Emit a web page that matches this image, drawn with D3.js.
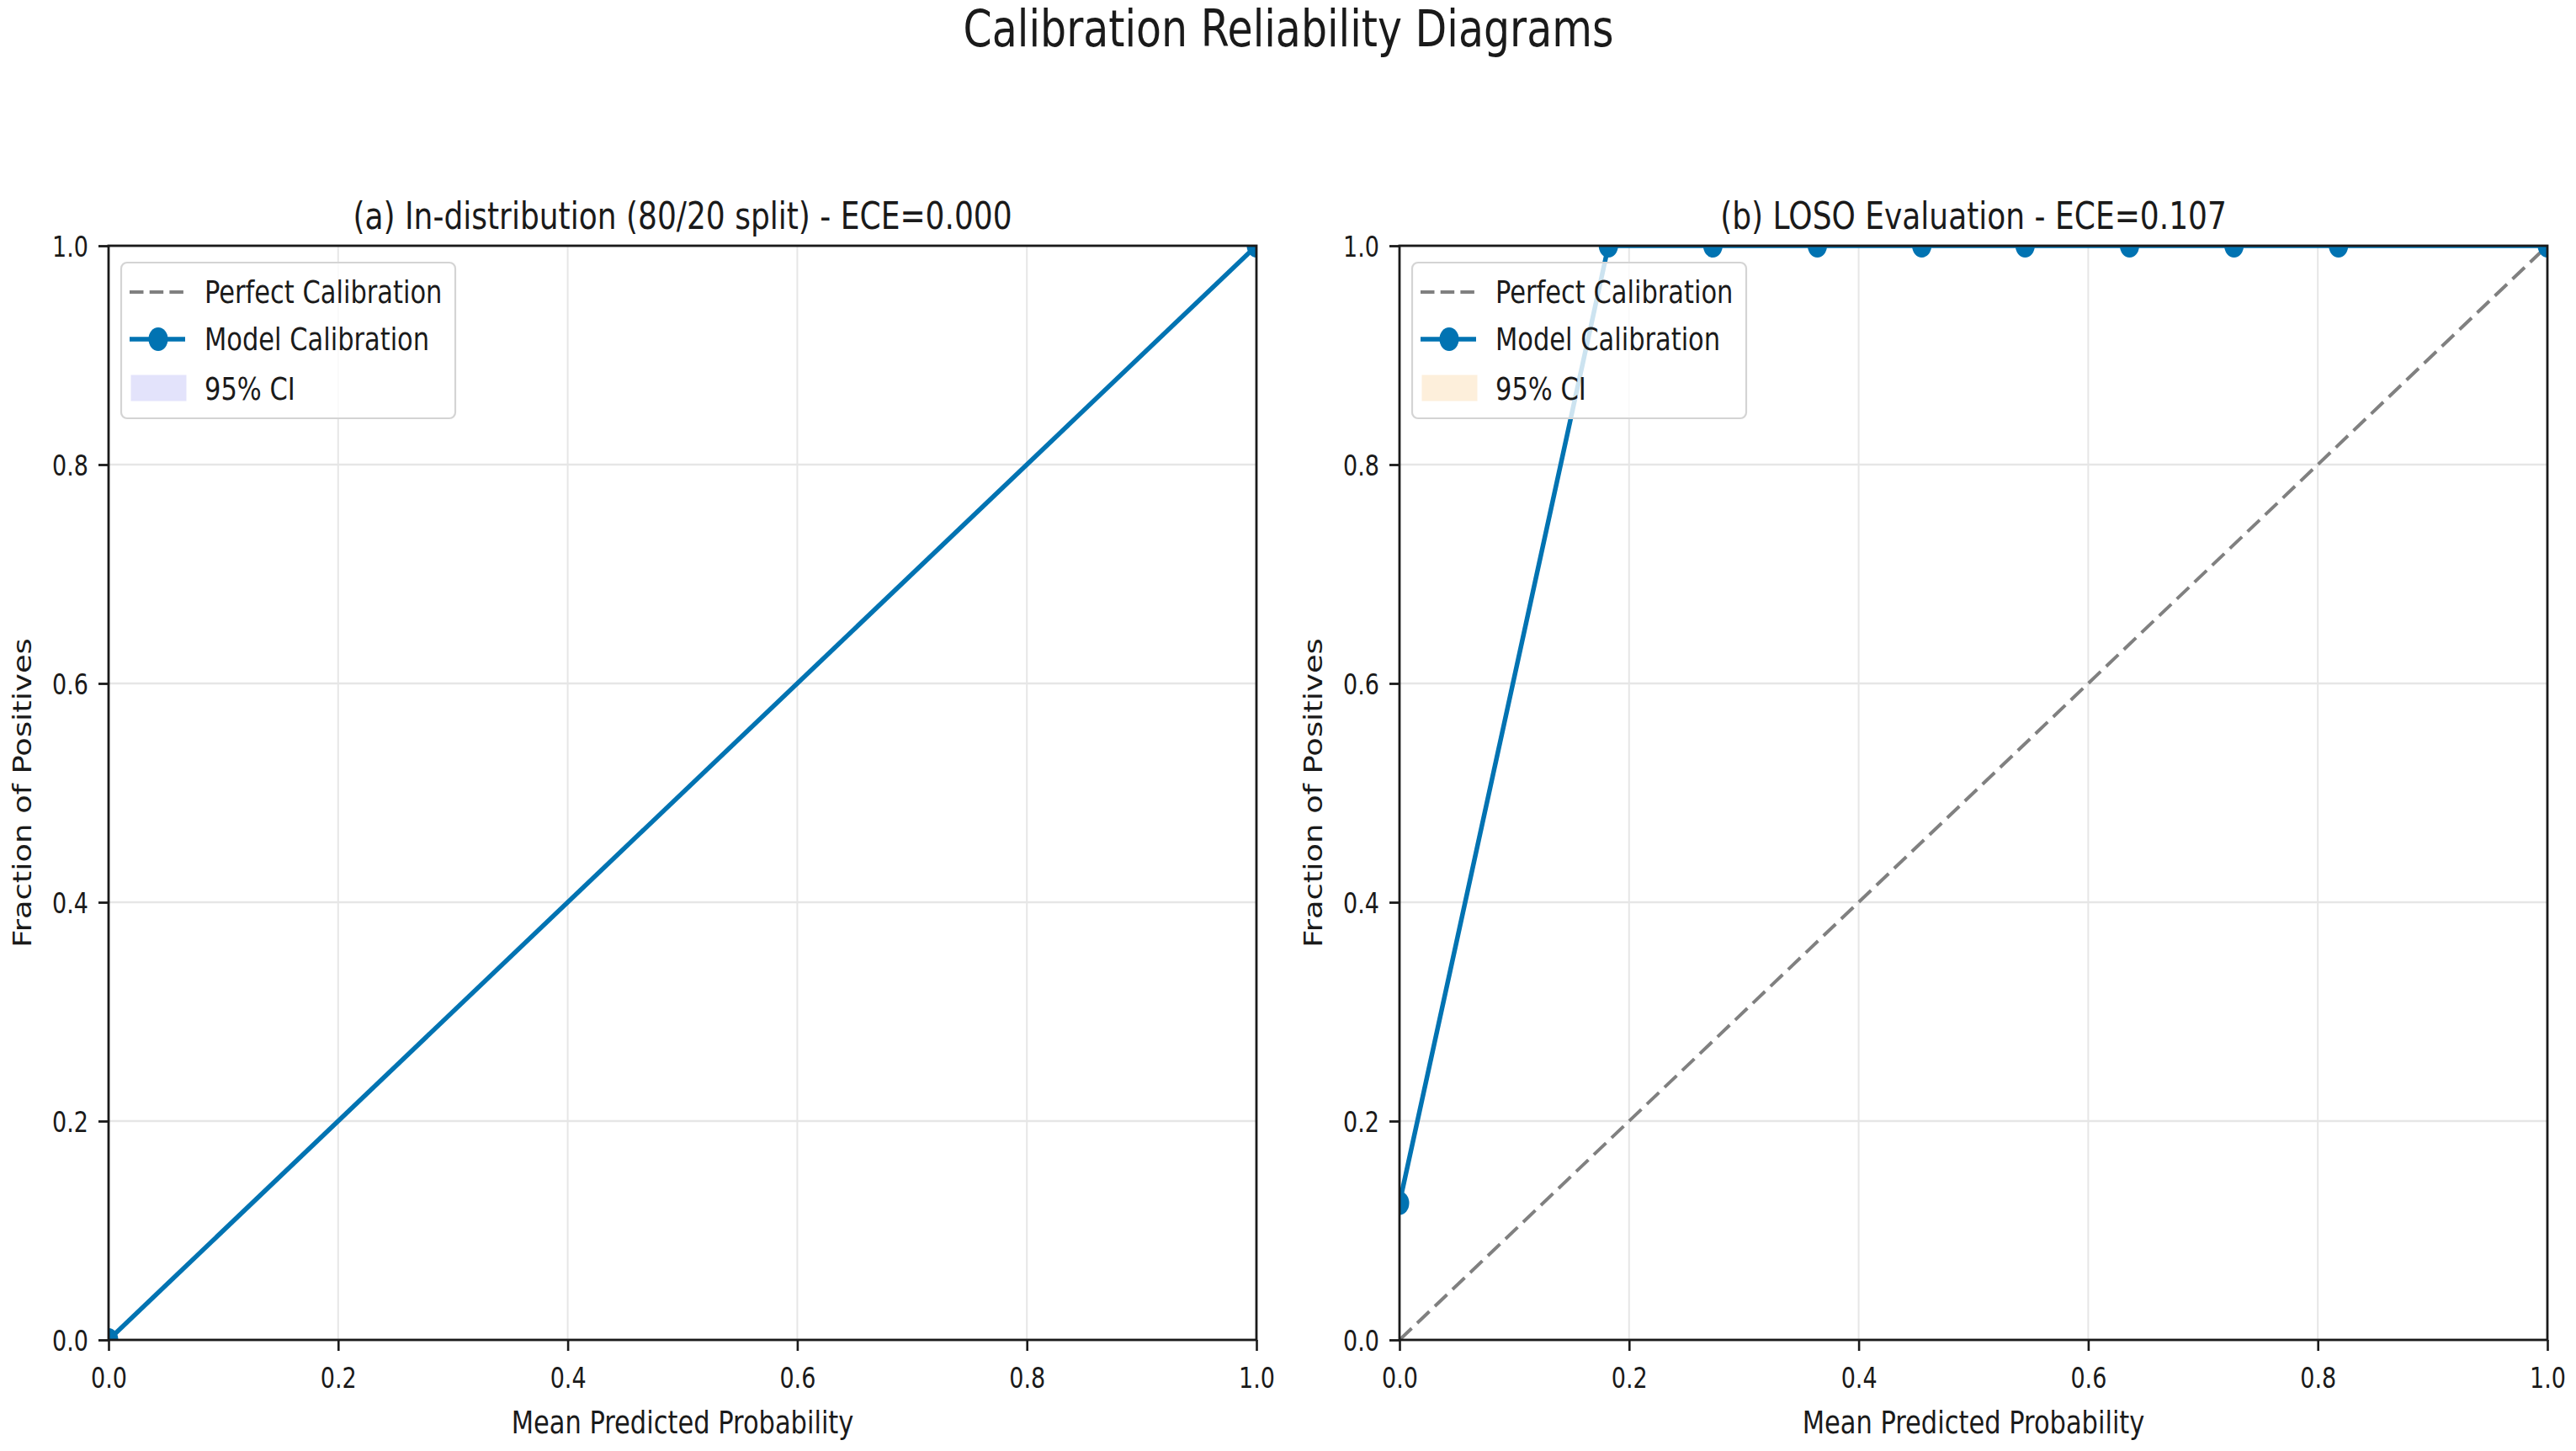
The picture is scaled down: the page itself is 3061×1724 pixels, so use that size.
<!DOCTYPE html>
<html><head><meta charset="utf-8">
<script src="https://cdn.jsdelivr.net/npm/d3@7"></script>
<style>
html,body{margin:0;padding:0;background:#fff;}
svg{display:block;}
text{font-family:"DejaVu Sans",sans-serif;fill:#1a1a1a;}
</style>
</head><body>
<svg id="chart" width="3061" height="1724"></svg>
<script>
// ---- data ----
const tickValues = [0.0, 0.2, 0.4, 0.6, 0.8, 1.0];
const tickLabels = ["0.0", "0.2", "0.4", "0.6", "0.8", "1.0"];
const perfectX = [0.0, 1.0];
const perfectY = [0.0, 1.0];
const inDistX = [0.0, 1.0];
const inDistY = [0.0, 1.0];
const losoX = [0.0, 0.182, 0.273, 0.364, 0.455, 0.545, 0.636, 0.727, 0.818, 1.0];
const losoY = [0.125, 1.0, 1.0, 1.0, 1.0, 1.0, 1.0, 1.0, 1.0, 1.0];
const panelTitles = ["(a) In-distribution (80/20 split) - ECE=0.000", "(b) LOSO Evaluation - ECE=0.107"];
const legendLabels = ["Perfect Calibration", "Model Calibration", "95% CI"];
const ciColors = ["#e3e3fb", "#fdefdb"];
const mainTitle = "Calibration Reliability Diagrams";
const xLabel = "Mean Predicted Probability";
const yLabel = "Fraction of Positives";

// ---- layout ----
const SY = 1.23;          // vertical stretch of the original raster
const BLUE = "#0173b2";
const panels = [
  {left: 129, xs: inDistX, ys: inDistY},
  {left: 1663, xs: losoX, ys: losoY}
];
const TOP = 292, W = 1364, H = 1300;

const svg = d3.select("#chart");

function txt(g, x, y, s, size, anchor, rotate) {
  return g.append("text")
    .attr("transform", rotate ? `translate(${x},${y}) rotate(-90) scale(${SY},1)` : `translate(${x},${y}) scale(1,${SY})`)
    .attr("font-size", size)
    .attr("text-anchor", anchor)
    .text(s);
}

txt(svg, 1531, 55, mainTitle, 49, "middle");

panels.forEach((p, i) => {
  const x = d3.scaleLinear().domain([0, 1]).range([p.left, p.left + W]);
  const y = d3.scaleLinear().domain([0, 1]).range([TOP + H, TOP]);
  const g = svg.append("g");

  const clipId = "clip" + i;
  svg.append("clipPath").attr("id", clipId)
    .append("rect").attr("x", p.left).attr("y", TOP).attr("width", W).attr("height", H);

  // grid
  g.append("g").selectAll("line.vg").data(tickValues).join("line")
    .attr("x1", d => x(d)).attr("x2", d => x(d)).attr("y1", TOP).attr("y2", TOP + H)
    .attr("stroke", "#e6e6e6").attr("stroke-width", 2);
  g.append("g").selectAll("line.hg").data(tickValues).join("line")
    .attr("y1", d => y(d)).attr("y2", d => y(d)).attr("x1", p.left).attr("x2", p.left + W)
    .attr("stroke", "#e6e6e6").attr("stroke-width", 2.6);

  const data = g.append("g").attr("clip-path", `url(#${clipId})`);
  // perfect calibration
  const line = d3.line().x(d => x(d[0])).y(d => y(d[1]));
  data.append("path").datum(perfectX.map((v, k) => [v, perfectY[k]]))
    .attr("d", line).attr("fill", "none").attr("stroke", "#808080")
    .attr("stroke-width", 4).attr("stroke-dasharray", "20,9");
  // model calibration
  const pts = p.xs.map((v, k) => [v, p.ys[k]]);
  data.append("path").datum(pts).attr("d", line).attr("fill", "none")
    .attr("stroke", BLUE).attr("stroke-width", 5.5).attr("stroke-linejoin", "round");
  data.selectAll("ellipse").data(pts).join("ellipse")
    .attr("cx", d => x(d[0])).attr("cy", d => y(d[1])).attr("rx", 11.5).attr("ry", 14)
    .attr("fill", BLUE);

  // axes
  const ax = g.append("g").attr("transform", `translate(0,${TOP + H})`)
    .call(d3.axisBottom(x).tickValues(tickValues).tickFormat((d, k) => tickLabels[k]).tickSize(13).tickSizeOuter(0));
  ax.select(".domain").remove();
  ax.selectAll(".tick line").attr("stroke", "#1a1a1a").attr("stroke-width", 2.6);
  ax.selectAll(".tick text").attr("x", null).attr("y", null).attr("dy", null)
    .attr("font-size", 27).attr("font-family", "DejaVu Sans").attr("fill", "#1a1a1a")
    .attr("transform", `translate(0,57) scale(1,${SY})`);

  const ay = g.append("g").attr("transform", `translate(${p.left},0)`)
    .call(d3.axisLeft(y).tickValues(tickValues).tickFormat((d, k) => tickLabels[k]).tickSize(12).tickSizeOuter(0));
  ay.select(".domain").remove();
  ay.selectAll(".tick line").attr("stroke", "#1a1a1a").attr("stroke-width", 2.8);
  ay.selectAll(".tick text").attr("x", null).attr("y", null).attr("dy", null)
    .attr("font-size", 27).attr("font-family", "DejaVu Sans").attr("fill", "#1a1a1a")
    .attr("text-anchor", "end")
    .attr("transform", `translate(-24,12) scale(1,${SY})`);

  // legend
  const lg = g.append("g").attr("transform", `translate(${p.left + 15},${TOP + 20})`);
  lg.append("rect").attr("x", 0).attr("y", 0).attr("width", 397).attr("height", 185)
    .attr("rx", 7).attr("fill", "#fff").attr("fill-opacity", 0.8)
    .attr("stroke", "#d4d4d4").attr("stroke-width", 2.2);
  const rowY = [35, 91, 150];
  lg.append("line").attr("x1", 10).attr("x2", 76).attr("y1", rowY[0]).attr("y2", rowY[0])
    .attr("stroke", "#808080").attr("stroke-width", 4).attr("stroke-dasharray", "16.5,7.2");
  lg.append("line").attr("x1", 10).attr("x2", 76).attr("y1", rowY[1]).attr("y2", rowY[1])
    .attr("stroke", BLUE).attr("stroke-width", 5.5);
  lg.append("ellipse").attr("cx", 44).attr("cy", rowY[1]).attr("rx", 11.5).attr("ry", 14).attr("fill", BLUE);
  lg.append("rect").attr("x", 12).attr("y", rowY[2] - 16).attr("width", 65).attr("height", 30)
    .attr("fill", ciColors[i]).attr("stroke", ciColors[i]).attr("stroke-width", 1);
  legendLabels.forEach((s, k) => txt(lg, 99, rowY[k] + 13, s, 30.5, "start"));

  // spines
  g.append("rect").attr("x", p.left).attr("y", TOP).attr("width", W).attr("height", H)
    .attr("fill", "none").attr("stroke", "#1a1a1a").attr("stroke-width", 2.8);

  // titles / labels
  txt(g, p.left + W / 2, 272, panelTitles[i], 36, "middle");
  txt(g, p.left + W / 2, 1703, xLabel, 30.5, "middle");
  txt(g, p.left - 92, TOP + H / 2, yLabel, 30, "middle", true);
});
</script>
</body></html>
